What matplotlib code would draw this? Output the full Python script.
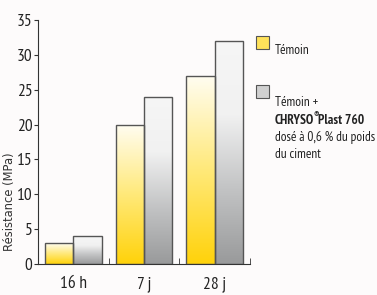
import numpy as np
import matplotlib
matplotlib.use("Agg")
import matplotlib.pyplot as plt
from matplotlib.colors import LinearSegmentedColormap
from matplotlib.patches import Rectangle

categories = ["16 h", "7 j", "28 j"]
temoin = [3, 20, 27]
chryso = [4, 24, 32]
yticks = [0, 5, 10, 15, 20, 25, 30, 35]

cond = ["PT Sans Narrow", "DejaVu Sans"]
bg = "#fdfbfb"

fig = plt.figure(figsize=(3.77, 2.95), dpi=100, facecolor=bg)
ax = fig.add_axes([38/377, 1-264/295, 212/377, 244/295])
ax.set_facecolor(bg)

cmap_y = LinearSegmentedColormap.from_list("y", ["#ffd20a", "#ffe97a", "#fffdf2"])
cmap_g = LinearSegmentedColormap.from_list("g", ["#999a9b", "#c2c3c4", "#f1f1f1", "#f6f6f6"])

w = 0.4
x = np.arange(len(categories))
grad = np.linspace(0, 1, 256).reshape(-1, 1)
for xi, v, cm in [(xi, v, cmap_y) for xi, v in zip(x - w/2, temoin)] + \
                 [(xi, v, cmap_g) for xi, v in zip(x + w/2, chryso)]:
    l = xi - w/2
    im = ax.imshow(grad, cmap=cm, aspect="auto", origin="lower",
                   extent=[l, l + w, 0, v], zorder=2, interpolation="bilinear")
    r = Rectangle((l, 0), w, v, facecolor="none", edgecolor="#555555", lw=1.0, zorder=3)
    ax.add_patch(r)
    im.set_clip_path(r)

ax.set_xlim(-0.5, 2.5)
ax.set_ylim(0, 35)
for s in ["top", "right"]:
    ax.spines[s].set_visible(False)
ax.spines["left"].set_color("#333333")
ax.spines["bottom"].set_color("#333333")
ax.set_yticks(yticks)
ax.set_yticklabels([str(t) for t in yticks], family=cond, fontsize=12.5)
ax.tick_params(axis="y", direction="out", length=3, pad=1, colors="#333333", labelcolor="#222222")
ax.set_xticks([0.5, 1.5, 2.5], minor=True)
ax.set_xticks(x)
ax.set_xticklabels(categories, family=cond, fontsize=12.5)
ax.tick_params(axis="x", which="major", length=0, pad=9, labelcolor="#222222")
ax.tick_params(axis="x", which="minor", direction="in", length=4, colors="#333333")
fig.text(10/377, 1-202/295, "Résistance (MPa)", family="DejaVu Sans", fontsize=8.3,
         rotation=90, ha="center", va="center", color="#333333")

# legend
lx = 256/377
fig.patches.append(Rectangle((lx, 1-49/295), 13/377, 13/295, transform=fig.transFigure,
                             facecolor="#ffe25a", edgecolor="#555555", lw=0.8))
fig.patches.append(Rectangle((lx, 1-98/295), 13/377, 13/295, transform=fig.transFigure,
                             facecolor="#d0d0d0", edgecolor="#555555", lw=0.8))
tx = 275/377
fs = 9.6
tc = "#222222"
fig.text(tx, 1-51/295, "Témoin", family=cond, fontsize=fs, va="center", color=tc)
fig.text(tx, 1-103/295, "Témoin +", family=cond, fontsize=fs, va="center", color=tc)
t1 = fig.text(tx, 1-120/295, "CHRYSO", family=cond, fontsize=fs, va="center", color=tc, weight="bold")
fig.canvas.draw()
r = fig.canvas.get_renderer()
bb = t1.get_window_extent(r)
t2 = fig.text((bb.x1 - 1) / fig.bbox.width, 1-116/295, "®", family=cond, fontsize=fs*0.7,
              va="center", color=tc, weight="bold")
bb2 = t2.get_window_extent(r)
fig.text((bb2.x1 - 1) / fig.bbox.width, 1-120/295, "Plast 760", family=cond, fontsize=fs,
         va="center", color=tc, weight="bold")
fig.text(tx, 1-138/295, "dosé à 0,6 % du poids", family=cond, fontsize=fs, va="center", color=tc)
fig.text(tx, 1-155/295, "du ciment", family=cond, fontsize=fs, va="center", color=tc)

fig.savefig("out.png", dpi=100, facecolor=bg)
